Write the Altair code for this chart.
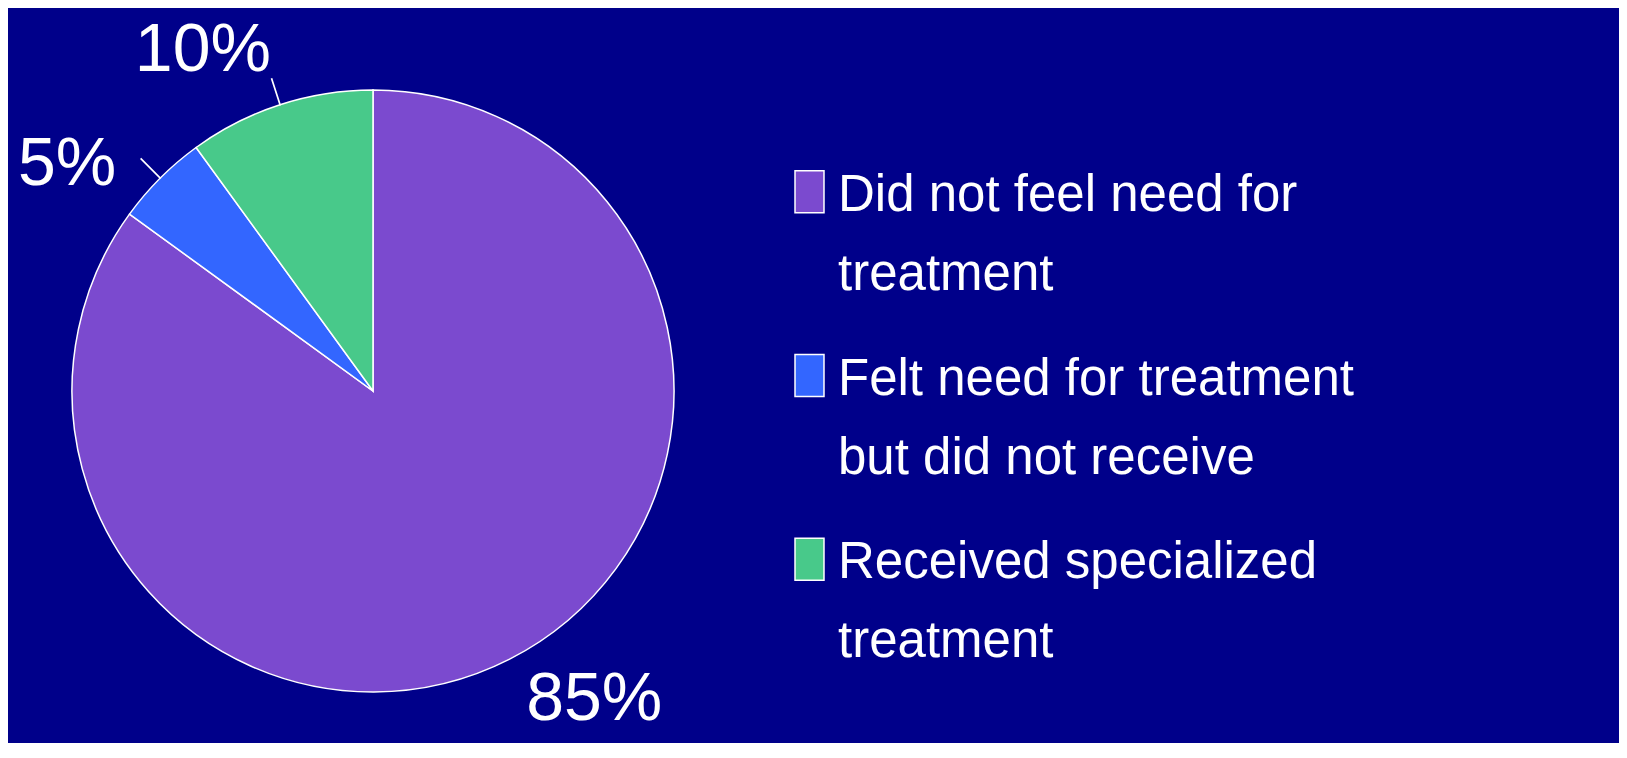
import altair as alt
import pandas as pd

# ---- data ----
categories = [
    "Did not feel need for treatment",
    "Felt need for treatment but did not receive",
    "Received specialized treatment",
]
legend_labels = [
    "Did not feel need for\ntreatment",
    "Felt need for treatment\nbut did not receive",
    "Received specialized\ntreatment",
]
values = [85, 5, 10]
colors = ["#7B4ACF", "#3366FF", "#48C98A"]

df = pd.DataFrame({
    "category": categories,
    "legend": legend_labels,
    "value": values,
    "idx": list(range(len(categories))),
})

# ---- layout constants ----
W, H = 1611, 735
CX, CY, R = 365, 383, 301
BG = "#00008A"

base = alt.Chart(df).transform_window(
    cum="sum(value)", sort=[alt.SortField("idx")], frame=[None, 0]
).transform_calculate(
    start="datum.cum - datum.value",
    mid="datum.cum - datum.value / 2",
    mid2="datum.cum - datum.value / 2 + 0.01",
    label="datum.value + '%'",
)

theta_scale = alt.Scale(domain=[0, 100])
color_scale = alt.Scale(domain=categories, range=colors)

pie = base.mark_arc(radius=R, stroke="white", strokeWidth=1.5).encode(
    theta=alt.Theta("start:Q", scale=theta_scale, stack=None),
    theta2="cum:Q",
    color=alt.Color("category:N", scale=color_scale, legend=None),
    x=alt.value(CX),
    y=alt.value(CY),
)

leaders = base.transform_filter("datum.value < 50").mark_arc(
    radius=R, radius2=328, stroke="white", strokeWidth=1.5, fillOpacity=0
).encode(
    theta=alt.Theta("mid:Q", scale=theta_scale, stack=None),
    theta2="mid2:Q",
    x=alt.value(CX),
    y=alt.value(CY),
)

labels = base.mark_text(
    radius=380, thetaOffset=-0.15, font="Liberation Sans, Arial, sans-serif", fontSize=68,
    color="white", baseline="middle", align="center",
).encode(
    theta=alt.Theta("mid:Q", scale=theta_scale, stack=None),
    text="label:N",
    x=alt.value(CX),
    y=alt.value(CY),
)

ly = alt.Y("category:N", scale=alt.Scale(type="point", padding=1.04, domain=categories), axis=None)

swatch = base.mark_point(
    shape="M-0.69,-1H0.69V1H-0.69Z", size=1764, filled=True,
    stroke="white", strokeWidth=1.5, opacity=1,
).encode(
    x=alt.value(801.5),
    y=ly,
    fill=alt.Fill("category:N", scale=color_scale, legend=None),
)

ltext = base.mark_text(
    align="left", baseline="alphabetic", dy=19, lineBreak="\n", lineHeight=79,
    font="Liberation Sans, Arial, sans-serif", fontSize=51, color="white",
).encode(
    x=alt.value(830),
    y=ly,
    text="legend:N",
)

chart = alt.layer(pie, leaders, labels, swatch, ltext).properties(
    width=W, height=H, padding=0,
    autosize=alt.AutoSizeParams(type="none"),
    background=BG,
).configure_view(strokeOpacity=0)

chart.save("out.html", embed_options={"renderer": "svg", "actions": False})
